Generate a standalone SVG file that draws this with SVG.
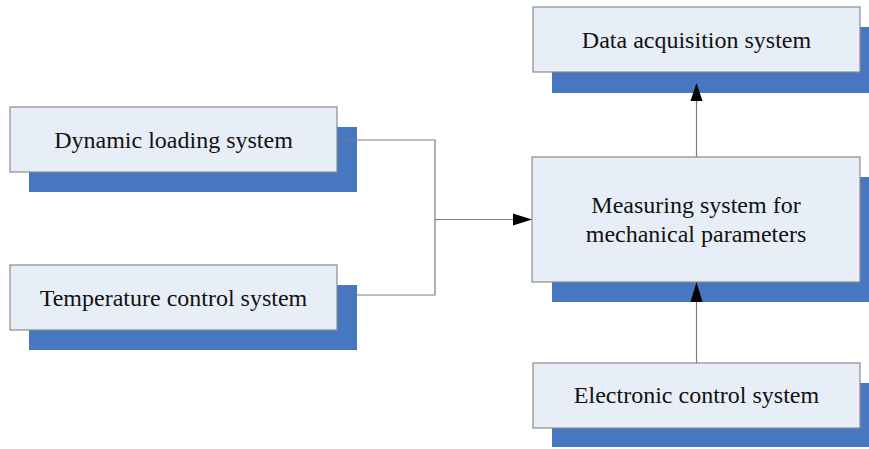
<svg xmlns="http://www.w3.org/2000/svg" width="869" height="449" viewBox="0 0 869 449">
<defs>
<style>
.sh{fill:#4877C1}
.bx{fill:#E8EEF8;stroke:#8A8A8A;stroke-width:1.2}
.t{font-family:"Liberation Serif","Times New Roman",serif;font-size:24px;fill:#111;text-anchor:middle}
.ln{fill:none;stroke:#7A7A7A;stroke-width:1.2}
.ah{fill:#000}
</style>
</defs>
<rect width="869" height="449" fill="#fff"/>
<g id="dynamic">
<rect class="sh" x="29" y="127" width="328" height="65"/>
<rect class="bx" x="10" y="107" width="327" height="65"/>
<text class="t" x="173.5" y="148">Dynamic loading system</text>
</g>
<g id="temperature">
<rect class="sh" x="29" y="285" width="328" height="65"/>
<rect class="bx" x="10" y="265" width="327" height="65"/>
<text class="t" x="173.5" y="306">Temperature control system</text>
</g>
<g id="data">
<rect class="sh" x="552" y="27" width="317" height="66"/>
<rect class="bx" x="533" y="7" width="327" height="65"/>
<text class="t" x="696.5" y="48">Data acquisition system</text>
</g>
<g id="measuring">
<rect class="sh" x="552" y="177" width="317" height="125"/>
<rect class="bx" x="532" y="157" width="328" height="125"/>
<text class="t" x="696" y="213">Measuring system for</text>
<text class="t" x="696" y="242">mechanical parameters</text>
</g>
<g id="electronic">
<rect class="sh" x="552" y="383" width="317" height="64"/>
<rect class="bx" x="533" y="363" width="327" height="65"/>
<text class="t" x="696.5" y="403">Electronic control system</text>
</g>
<g id="connectors">
<polyline class="ln" points="337,140 435,140 435,295 357,295"/>
<line class="ln" x1="435" y1="219.5" x2="514" y2="219.5"/>
<polygon class="ah" points="532,219.5 513,213.5 513,225.5"/>
<line class="ln" x1="696.5" y1="157" x2="696.5" y2="100"/>
<polygon class="ah" points="696.5,83 690.5,101 702.5,101"/>
<line class="ln" x1="696.5" y1="363" x2="696.5" y2="301"/>
<polygon class="ah" points="696.5,282 690.5,302 702.5,302"/>
</g>
</svg>
